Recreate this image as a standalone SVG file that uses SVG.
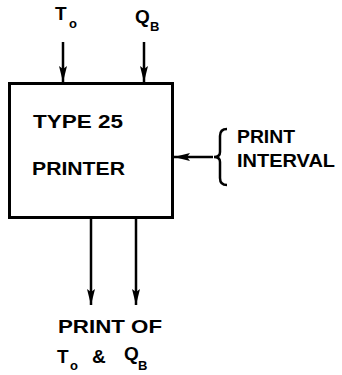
<svg xmlns="http://www.w3.org/2000/svg" width="342" height="375" viewBox="0 0 342 375">
<defs>
<style>
text{font-family:"Liberation Sans",Arial,sans-serif;font-weight:bold;fill:#000}
.t{font-size:19px}
.s{font-size:13px}
.ln{stroke:#000;stroke-width:2.5;fill:none}
</style>
<marker id="ah" viewBox="0 0 16 8" refX="16" refY="4" markerWidth="16" markerHeight="8" markerUnits="userSpaceOnUse" orient="auto">
<path d="M0,0 L16,4 L0,8 L3,4 Z" fill="#000"/>
</marker>
</defs>
<rect width="342" height="375" fill="#fff"/>
<g id="printer">
<rect x="9.5" y="83.5" width="163" height="134" fill="none" stroke="#000" stroke-width="3"/>
<text class="t" x="33" y="128" textLength="90" lengthAdjust="spacingAndGlyphs">TYPE 25</text>
<text class="t" x="32" y="175" textLength="93" lengthAdjust="spacingAndGlyphs">PRINTER</text>
</g>
<g id="in-t0">
<text class="t" x="55" y="20" font-size="17">T</text>
<text class="s" x="69" y="28">o</text>
</g>
<g id="in-qb">
<text class="t" x="135" y="23" font-size="17">Q</text>
<text class="s" x="150" y="31">B</text>
</g>
<g id="in-interval">
<path class="ln" d="M227,129 Q220,129 220,136 L220,152 Q220,157 214,157 Q220,157 220,162 L220,178 Q220,185 227,185"/>
<text class="t" x="237" y="143" textLength="58" lengthAdjust="spacingAndGlyphs">PRINT</text>
<text class="t" x="237" y="167" textLength="98" lengthAdjust="spacingAndGlyphs">INTERVAL</text>
</g>
<g id="out">
<text class="t" x="58" y="333" textLength="104" lengthAdjust="spacingAndGlyphs">PRINT OF</text>
<text class="t" x="57" y="363" font-size="17">T</text>
<text class="s" x="70" y="370">o</text>
<text class="t" x="92" y="363" font-size="15">&amp;</text>
<text class="t" x="124" y="360" font-size="15">Q</text>
<text class="s" x="138" y="370">B</text>
</g>
<g id="connectors">
<line class="ln" x1="63" y1="42" x2="63" y2="82" marker-end="url(#ah)"/>
<line class="ln" x1="144" y1="42" x2="144" y2="82" marker-end="url(#ah)"/>
<line class="ln" x1="213" y1="157" x2="174" y2="157" marker-end="url(#ah)"/>
<line class="ln" x1="91" y1="219" x2="91" y2="305" marker-end="url(#ah)"/>
<line class="ln" x1="136" y1="219" x2="136" y2="305" marker-end="url(#ah)"/>
</g>
</svg>
